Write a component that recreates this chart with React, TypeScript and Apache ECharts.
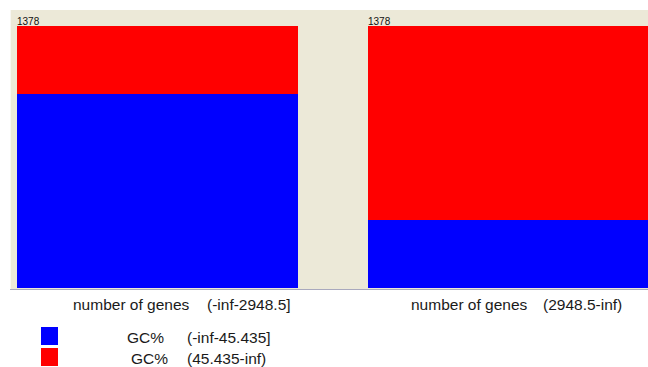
import React, { useEffect, useRef } from "react";
import * as echarts from "echarts";

// Gene-count bins (number of genes) and their GC% class counts
const attributeName = "number of genes";
const bins = ["(-inf-2948.5]", "(2948.5-inf)"];
const classAttribute = "GC%";
const classLabels = ["(-inf-45.435]", "(45.435-inf)"];
const classColors = ["#0000ff", "#ff0000"];
const gcLowCounts = [1020, 358];
const gcHighCounts = [358, 1020];

const FONT = "'Liberation Sans', Arial, sans-serif";
const TEXT_FONT = `15.5px ${FONT}`;

export default function App() {
  const ref = useRef<HTMLDivElement>(null);

  useEffect(() => {
    if (!ref.current) return;
    const chart = echarts.init(ref.current, null, { renderer: "svg" });

    const totals = bins.map((_, i) => gcLowCounts[i] + gcHighCounts[i]);
    const maxCount = Math.max(...totals);

    const panels = [
      { left: 17, width: 281, nameX: 73, valueX: 207 },
      { left: 368, width: 280, nameX: 411, valueX: 543 },
    ];

    const grid = panels.map((p) => ({
      left: p.left,
      width: p.width,
      top: 26,
      height: 262,
    }));
    const xAxis = panels.map((_, i) => ({
      type: "category" as const,
      gridIndex: i,
      data: [bins[i]],
      show: false,
    }));
    const yAxis = panels.map((_, i) => ({
      type: "value" as const,
      gridIndex: i,
      min: 0,
      max: maxCount,
      show: false,
    }));

    const series: any[] = [];
    bins.forEach((_, i) => {
      series.push({
        type: "bar",
        name: classLabels[0],
        xAxisIndex: i,
        yAxisIndex: i,
        stack: "s" + i,
        barWidth: "100%",
        data: [gcLowCounts[i]],
        itemStyle: { color: classColors[0] },
        silent: true,
      });
      series.push({
        type: "bar",
        name: classLabels[1],
        xAxisIndex: i,
        yAxisIndex: i,
        stack: "s" + i,
        barWidth: "100%",
        data: [gcHighCounts[i]],
        itemStyle: { color: classColors[1] },
        silent: true,
        label: {
          show: true,
          position: [0, -10],
          align: "left",
          verticalAlign: "top",
          formatter: () => String(totals[i]),
          fontFamily: FONT,
          fontSize: 10,
          color: "#111",
        },
      });
    });

    const graphic: any[] = [
      {
        type: "rect",
        shape: { x: 10, y: 10, width: 638, height: 279 },
        style: { fill: "#ece9d8" },
        z: -10,
      },
      {
        type: "line",
        shape: { x1: 10, y1: 289.5, x2: 648, y2: 289.5 },
        style: { stroke: "#a9a9bd", lineWidth: 1 },
        z: -9,
      },
      {
        type: "line",
        shape: { x1: 10.5, y1: 10, x2: 10.5, y2: 289 },
        style: { stroke: "#f8f7f2", lineWidth: 1 },
        z: -9,
      },
    ];

    panels.forEach((p, i) => {
      graphic.push({
        type: "text",
        x: p.nameX,
        y: 304,
        style: {
          text: attributeName,
          font: TEXT_FONT,
          fill: "#1a1a1a",
          verticalAlign: "middle",
        },
      });
      graphic.push({
        type: "text",
        x: p.valueX,
        y: 304,
        style: {
          text: bins[i],
          font: TEXT_FONT,
          fill: "#1a1a1a",
          verticalAlign: "middle",
        },
      });
    });

    const legendRows = [
      { y: 327, nameX: 127, textY: 337 },
      { y: 348, nameX: 131, textY: 358 },
    ];
    legendRows.forEach((r, i) => {
      graphic.push({
        type: "rect",
        shape: { x: 41, y: r.y, width: 17, height: 18 },
        style: { fill: classColors[i] },
      });
      graphic.push({
        type: "text",
        x: r.nameX,
        y: r.textY,
        style: {
          text: classAttribute,
          font: TEXT_FONT,
          fill: "#1a1a1a",
          verticalAlign: "middle",
        },
      });
      graphic.push({
        type: "text",
        x: 187,
        y: r.textY,
        style: {
          text: classLabels[i],
          font: TEXT_FONT,
          fill: "#1a1a1a",
          verticalAlign: "middle",
        },
      });
    });

    chart.setOption({
      animation: false,
      backgroundColor: "#ffffff",
      grid,
      xAxis,
      yAxis,
      series,
      graphic,
    });

    return () => chart.dispose();
  }, []);

  return (
    <div
      ref={ref}
      style={{ position: "fixed", left: 0, top: 0, width: 648, height: 367 }}
    />
  );
}
